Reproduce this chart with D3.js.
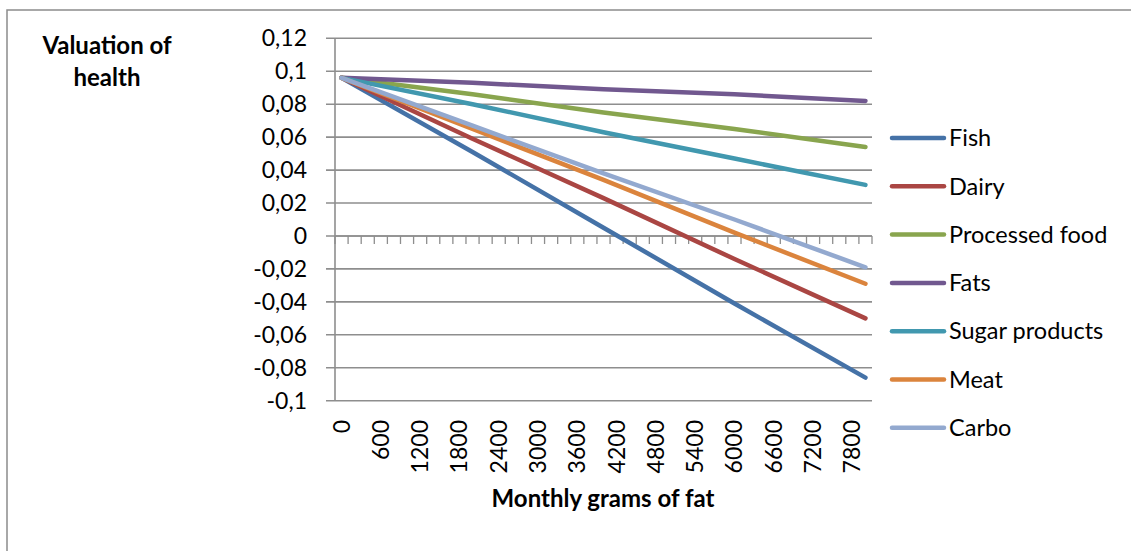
<!DOCTYPE html>
<html>
<head>
<meta charset="utf-8">
<script src="https://cdn.jsdelivr.net/npm/d3@7"></script>
<style>
  body { margin: 0; background: #fff; }
  text { font-family: Lato, "Open Sans", sans-serif; }
</style>
</head>
<body>
<svg id="chart" width="1131" height="551"></svg>
<script>
// ---- data ----
const categories = d3.range(0, 8001, 200);          // 41 category slots (monthly grams of fat)
const sampleGrams = [0, 2000, 4000, 6000, 8000];
const seriesNames = ["Fish", "Dairy", "Processed food", "Fats", "Sugar products", "Meat", "Carbo"];
const fish      = [0.096, 0.051, 0.005, -0.041, -0.086];
const dairy     = [0.096, 0.059, 0.023, -0.014, -0.050];
const processed = [0.096, 0.086, 0.075, 0.065, 0.054];
const fats      = [0.096, 0.093, 0.089, 0.086, 0.082];
const sugar     = [0.096, 0.080, 0.063, 0.047, 0.031];
const meat      = [0.096, 0.065, 0.034, 0.002, -0.029];
const carbo     = [0.096, 0.067, 0.038, 0.010, -0.019];
const seriesValues = [fish, dairy, processed, fats, sugar, meat, carbo];
const yTicks = [0.12, 0.1, 0.08, 0.06, 0.04, 0.02, 0, -0.02, -0.04, -0.06, -0.08, -0.1];
const yTickLabels = ["0,12", "0,1", "0,08", "0,06", "0,04", "0,02", "0", "-0,02", "-0,04", "-0,06", "-0,08", "-0,1"];
const xLabelEvery = 3;
const colors = ["#4572A7", "#AA4643", "#89A54E", "#71588F", "#4198AF", "#DB843D", "#93A9CF"];

// ---- layout ----
const svg = d3.select("#chart");
const plot = { left: 335, right: 872, top: 38.3, bottom: 400.7 };

// outer frame
svg.append("rect").attr("x", 7).attr("y", 10).attr("width", 1131).attr("height", 600)
  .attr("fill", "none").attr("stroke", "#8c8c8c").attr("stroke-width", 1.5);

const x = d3.scaleBand().domain(categories).range([plot.left, plot.right]).padding(0);
const y = d3.scaleLinear().domain([-0.1, 0.12]).range([plot.bottom, plot.top]);

// gridlines (extend left as tick marks)
svg.append("g").selectAll("line").data(yTicks).join("line")
  .attr("x1", plot.left - 9).attr("x2", plot.right)
  .attr("y1", d => y(d)).attr("y2", d => y(d))
  .attr("stroke", "#8e8e8e").attr("stroke-width", 1.6);

// y axis line
svg.append("line").attr("x1", plot.left).attr("x2", plot.left)
  .attr("y1", plot.top).attr("y2", plot.bottom)
  .attr("stroke", "#8e8e8e").attr("stroke-width", 1.6);

// y tick labels
svg.append("g").selectAll("text").data(yTicks).join("text")
  .attr("x", 307).attr("y", d => y(d)).attr("dy", "0.35em")
  .attr("text-anchor", "end").attr("font-size", 23).attr("fill", "#000")
  .text((d, i) => yTickLabels[i]);

// x axis at zero with category-boundary tick marks
const xAxisG = svg.append("g").attr("transform", `translate(0,${y(0)})`);
xAxisG.append("line").attr("x1", plot.left).attr("x2", plot.right)
  .attr("stroke", "#8e8e8e").attr("stroke-width", 1.6);
const bounds = categories.map(c => x(c)).concat([plot.right]);
xAxisG.selectAll("line.tk").data(bounds).join("line").attr("class", "tk")
  .attr("x1", d => d).attr("x2", d => d).attr("y1", 0).attr("y2", 8)
  .attr("stroke", "#8e8e8e").attr("stroke-width", 1.3);

// x labels (rotated) below plot
svg.append("g").selectAll("text")
  .data(categories.filter((c, i) => i % xLabelEvery === 0))
  .join("text")
  .attr("transform", d => `translate(${x(d) + x.bandwidth() / 2 + 8},420) rotate(-90)`)
  .attr("text-anchor", "end").attr("font-size", 23).attr("fill", "#000")
  .text(d => d);

// series lines
const line = d3.line().x(d => x(d[0]) + x.bandwidth() / 2).y(d => y(d[1]));
svg.append("g").selectAll("path").data(seriesValues).join("path")
  .attr("d", vals => line(vals.map((v, i) => [sampleGrams[i], v])))
  .attr("fill", "none").attr("stroke", (d, i) => colors[i])
  .attr("stroke-width", 4.5).attr("stroke-linecap", "round");

// legend
const lg = svg.append("g").selectAll("g").data(seriesNames).join("g")
  .attr("transform", (d, i) => `translate(0,${138 + i * 48.3})`);
lg.append("line").attr("x1", 892).attr("x2", 944)
  .attr("stroke", (d, i) => colors[i]).attr("stroke-width", 4.5).attr("stroke-linecap", "round");
lg.append("text").attr("x", 949).attr("dy", "0.35em")
  .attr("font-size", 23.5).attr("fill", "#000").text(d => d);

// titles
const yt = svg.append("text").attr("text-anchor", "middle").attr("font-weight", "bold")
  .attr("font-size", 24).attr("fill", "#000");
yt.append("tspan").attr("x", 107).attr("y", 54).text("Valuation of");
yt.append("tspan").attr("x", 107).attr("y", 86).text("health");

svg.append("text").attr("x", 603).attr("y", 507).attr("text-anchor", "middle")
  .attr("font-weight", "bold").attr("font-size", 24).attr("fill", "#000")
  .text("Monthly grams of fat");
</script>
</body>
</html>
